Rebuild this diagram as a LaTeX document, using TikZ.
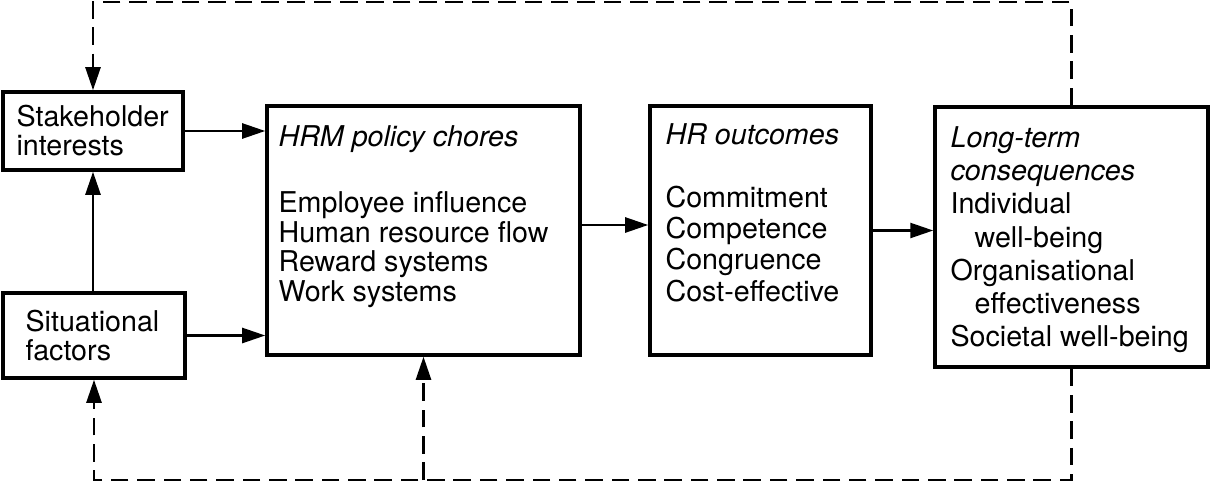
\documentclass[tikz,border=0pt]{standalone}
\usepackage{fontspec}
\setmainfont{TeX Gyre Heros}
\usetikzlibrary{arrows.meta, calc, positioning}

\begin{document}
\begin{tikzpicture}[
  factorbox/.style={
    rectangle, draw=black, line width=2pt, inner sep=0pt
  },
  boxtext/.style={
    inner sep=0pt, align=left, font=\fontsize{16.3}{#1}\selectfont
  },
  flowarrow/.style={
    -{Triangle[length=0.46cm, width=0.3cm]}, draw=black, line width=1.4pt
  },
  feedback/.style={
    flowarrow, dash pattern=on 10pt off 5pt
  }
]
\useasboundingbox (0,0) rectangle (24.24,9.66);

% ============================================================
% Left column: stakeholder interests and situational factors
% ============================================================
\node[factorbox, minimum width=3.6cm, minimum height=1.56cm]
  (stake) at (1.86, 7.04) {};
\node[boxtext=16.5pt, anchor=west] (stake-text)
  at ($(stake.west)+(0.30,0)$) {Stakeholder\\interests};

\node[factorbox, minimum width=3.64cm, minimum height=1.7cm]
  (sit) at (1.88, 2.95) {};
\node[boxtext=16.5pt, anchor=west] (sit-text)
  at ($(sit.west)+(0.48,0)$) {Situational\\factors};

% ============================================================
% Main row: policy choices, outcomes, consequences
% ============================================================
\node[factorbox, minimum width=6.26cm, minimum height=4.98cm]
  (hrm) at (8.47, 5.05) {};
\node[boxtext=16.8pt, anchor=north west] (hrm-text)
  at ($(hrm.north west)+(0.26,-0.42)$)
  {\textit{HRM policy chores}\\[0.73cm]
   Employee influence\\Human resource flow\\Reward systems\\Work systems};

\node[factorbox, minimum width=4.42cm, minimum height=4.98cm]
  (hr) at (15.21, 5.05) {};
\node[boxtext=17.8pt, anchor=north west] (hr-text)
  at ($(hr.north west)+(0.34,-0.38)$)
  {\textit{HR outcomes}\\[0.63cm]
   Commitment\\Competence\\Congruence\\Cost-effective};

\node[factorbox, minimum width=5.46cm, minimum height=5.2cm]
  (lt) at (21.43, 4.92) {};
\node[boxtext=18.9pt, anchor=north west] (lt-text)
  at ($(lt.north west)+(0.34,-0.42)$)
  {\textit{Long-term}\\\textit{consequences}\\Individual\\
   \hspace*{0.48cm}well-being\\Organisational\\
   \hspace*{0.48cm}effectiveness\\Societal well-being};

% ============================================================
% Solid arrows
% ============================================================
\draw[flowarrow] (stake.east) -- (stake.east -| hrm.west);
\draw[flowarrow] (sit.east) -- (sit.east -| hrm.west);
\draw[flowarrow] (sit.north -| stake.south) -- (stake.south);
\draw[flowarrow] ([yshift=0.11cm]hrm.east) -- ([yshift=0.11cm]hr.west);
\draw[flowarrow] (hr.east) -- (hr.east -| lt.west);

% ============================================================
% Dashed feedback loops
% ============================================================
\coordinate (ftop) at (0, 9.62);
\coordinate (fbot) at (0, 0.06);

\draw[feedback] (lt.north) |- (ftop -| stake.north) -- (stake.north);
\draw[feedback] (lt.south) |- (fbot -| sit.south) -- (sit.south);
\draw[feedback] (fbot -| hrm.south) -- (hrm.south);

\end{tikzpicture}
\end{document}
